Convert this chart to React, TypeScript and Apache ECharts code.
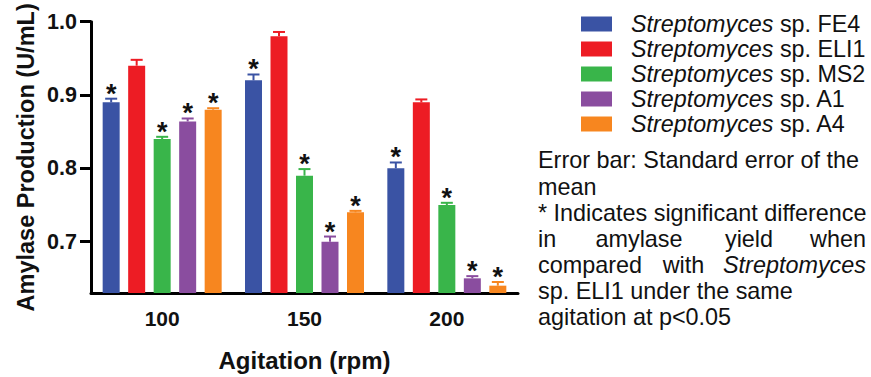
import React, { useEffect, useRef } from "react";
import * as echarts from "echarts";

const categories = ["100", "150", "200"];
const strainNames = [
  "Streptomyces sp. FE4",
  "Streptomyces sp. ELI1",
  "Streptomyces sp. MS2",
  "Streptomyces sp. A1",
  "Streptomyces sp. A4",
];
const strainColors = ["#3A53A4", "#ED1C24", "#39B54A", "#8A4D9F", "#F7861F"];

const fe4Mean = [0.89, 0.92, 0.8];
const eli1Mean = [0.94, 0.98, 0.89];
const ms2Mean = [0.84, 0.79, 0.75];
const a1Mean = [0.864, 0.7, 0.65];
const a4Mean = [0.88, 0.74, 0.64];

const fe4Err = [0.005, 0.008, 0.008];
const eli1Err = [0.008, 0.006, 0.004];
const ms2Err = [0.003, 0.009, 0.003];
const a1Err = [0.004, 0.007, 0.003];
const a4Err = [0.002, 0.002, 0.005];

const significant = [true, false, true, true, true];

const yTicks = [0.7, 0.8, 0.9, 1.0];
const yMin = 0.63;
const yMax = 1.0;

const noteLines = [
  "Error bar: Standard error of the",
  "mean",
  "* Indicates significant difference",
];
const noteJustified1 = ["in", "amylase", "yield", "when"];
const noteJustified2 = ["compared", "with", "Streptomyces"];
const noteTail = ["sp. ELI1 under the same", "agitation at p<0.05"];

const FONT = "'Liberation Sans', Arial, Helvetica, sans-serif";

export default function App() {
  const ref = useRef<HTMLDivElement>(null);

  useEffect(() => {
    if (!ref.current) return;
    const chart = echarts.init(ref.current, undefined, { renderer: "svg" });

    const means = [fe4Mean, eli1Mean, ms2Mean, a1Mean, a4Mean];
    const errs = [fe4Err, eli1Err, ms2Err, a1Err, a4Err];

    const barSeries = strainNames.map((name, k) => ({
      type: "bar",
      name,
      data: means[k],
      barWidth: 17,
      barGap: "50%",
      itemStyle: { color: strainColors[k] },
      z: 2,
    }));

    const errSeries = strainNames.map((name, k) => ({
      type: "custom",
      name: name + " error",
      data: means[k].map((m, i) => [i, m, errs[k][i]]),
      z: 3,
      silent: true,
      renderItem: (params: any, api: any) => {
        const cat = api.value(0);
        const mean = api.value(1);
        const err = api.value(2);
        const layout = api.barLayout({ count: 5, barWidth: 17, barGap: "50%" });
        const off = layout[k].offsetCenter;
        const base = api.coord([cat, mean]);
        const top = api.coord([cat, mean + err]);
        const x = base[0] + off;
        const children: any[] = [
          {
            type: "line",
            shape: { x1: x, y1: base[1], x2: x, y2: top[1] },
            style: { stroke: strainColors[k], lineWidth: 2 },
          },
          {
            type: "line",
            shape: { x1: x - 6, y1: top[1], x2: x + 6, y2: top[1] },
            style: { stroke: strainColors[k], lineWidth: 2 },
          },
        ];
        if (significant[k]) {
          children.push({
            type: "text",
            style: {
              text: "*",
              x,
              y: top[1] - 5,
              fontSize: 27,
              fontWeight: "bold",
              fontFamily: FONT,
              fill: "#111",
              align: "center",
              verticalAlign: "middle",
            },
          });
        }
        return { type: "group", children };
      },
    }));

    const noteX = 538;
    const noteRight = 866;
    const noteFont = 23.4;
    const noteStyle = (text: string, x: number, y: number, align = "left", italic = false) => ({
      type: "text",
      x,
      y,
      style: {
        text,
        fontSize: noteFont,
        fontFamily: FONT,
        fontStyle: italic ? "italic" : "normal",
        fill: "#111",
        align,
        verticalAlign: "middle",
      },
    });

    const graphics: any[] = [];
    const lineYs = [160, 186.5, 213, 239, 265, 291, 317];
    noteLines.forEach((t, i) => graphics.push(noteStyle(t, noteX, lineYs[i])));
    // justified line 4
    graphics.push(noteStyle(noteJustified1[0], noteX, lineYs[3], "left"));
    graphics.push(noteStyle(noteJustified1[1], 639, lineYs[3], "center"));
    graphics.push(noteStyle(noteJustified1[2], 749, lineYs[3], "center"));
    graphics.push(noteStyle(noteJustified1[3], noteRight, lineYs[3], "right"));
    // justified line 5
    graphics.push(noteStyle(noteJustified2[0], noteX, lineYs[4], "left"));
    graphics.push(noteStyle(noteJustified2[1], 683.5, lineYs[4], "center"));
    graphics.push(noteStyle(noteJustified2[2], noteRight, lineYs[4], "right", true));
    noteTail.forEach((t, i) => graphics.push(noteStyle(t, noteX, lineYs[5 + i])));

    chart.setOption({
      animation: false,
      backgroundColor: "#fff",
      textStyle: { fontFamily: FONT },
      grid: { left: 91, right: 353, top: 21.7, bottom: 77, containLabel: false },
      legend: {
        data: strainNames,
        orient: "vertical",
        left: 581,
        top: 11.5,
        padding: 0,
        itemGap: 0,
        itemWidth: 31,
        itemHeight: 15,
        icon: "rect",
        selectedMode: false,
        formatter: (name: string) => "{i|Streptomyces}" + name.replace("Streptomyces", ""),
        textStyle: {
          fontSize: 23.3,
          fontFamily: FONT,
          color: "#111",
          lineHeight: 25,
          padding: [0, 0, 0, 14],
          rich: {
            i: { fontStyle: "italic", fontSize: 23.3, fontFamily: FONT, color: "#111", lineHeight: 25 },
          },
        },
      },
      xAxis: {
        type: "category",
        data: categories,
        name: "Agitation (rpm)",
        nameLocation: "middle",
        nameGap: 55,
        nameTextStyle: { fontSize: 24, fontWeight: "bold", color: "#111", fontFamily: FONT },
        axisLine: { lineStyle: { color: "#000", width: 3 } },
        axisTick: { alignWithLabel: true, length: 10, lineStyle: { color: "#000", width: 3 } },
        axisLabel: { fontSize: 21, fontWeight: "bold", color: "#111", margin: 15, fontFamily: FONT },
      },
      yAxis: {
        type: "value",
        min: yMin,
        max: yMax,
        name: "Amylase Production (U/mL)",
        nameLocation: "middle",
        nameGap: 53,
        nameTextStyle: { fontSize: 23.5, fontWeight: "bold", color: "#111", fontFamily: FONT },
        splitLine: { show: false },
        axisLine: { show: true, lineStyle: { color: "#000", width: 3 } },
        axisTick: { show: true, length: 11, customValues: yTicks, lineStyle: { color: "#000", width: 3 } },
        axisLabel: {
          fontSize: 21.5,
          fontWeight: "bold",
          color: "#111",
          margin: 14,
          fontFamily: FONT,
          customValues: yTicks,
          formatter: (v: number) => v.toFixed(1),
        },
      },
      series: [...barSeries, ...errSeries],
      graphic: graphics,
    } as any);

    return () => chart.dispose();
  }, []);

  return (
    <div
      ref={ref}
      style={{ position: "absolute", left: 0, top: 0, width: 871, height: 377, background: "#fff" }}
    />
  );
}
